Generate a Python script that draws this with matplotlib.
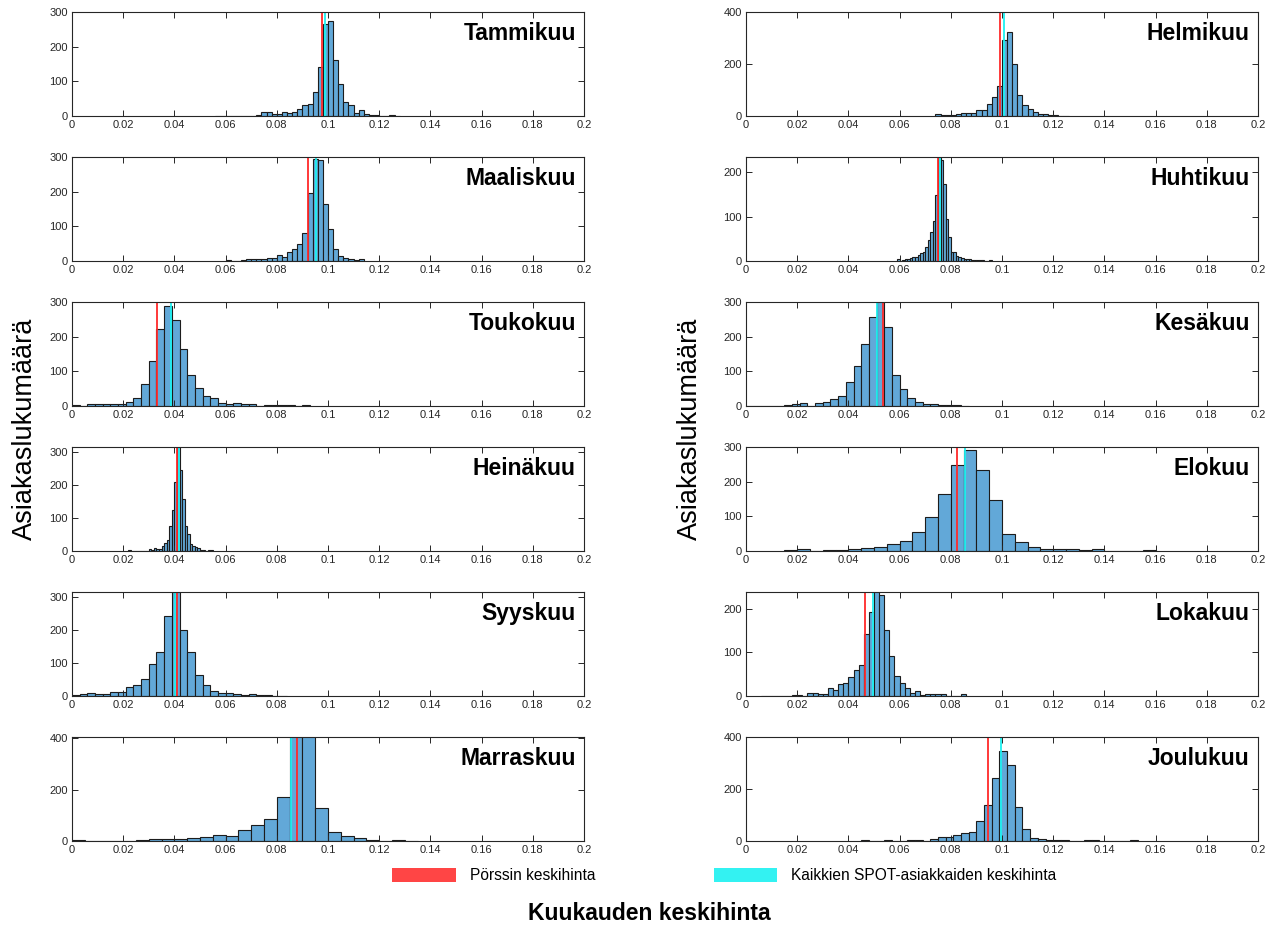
import matplotlib
matplotlib.use("Agg")
import matplotlib.pyplot as plt
import numpy as np
from matplotlib.patches import Patch

plt.rcParams['font.family'] = ['Liberation Sans', 'DejaVu Sans']

# counts per bin for every month (first edge and bin width below)
tammikuu = [1, 1, 1, 0, 0, 0, 0, 1, 3, 12, 12, 5, 7, 12, 10, 12, 19, 33, 35, 68, 140,
            264, 274, 162, 91, 39, 32, 8, 16, 6, 4, 3, 1, 0, 2, 1]
helmikuu = [8, 3, 4, 4, 8, 13, 13, 10, 22, 22, 45, 73, 115, 292, 322, 199, 81, 42, 27, 17,
            8, 8, 3, 2, 1, 1]
maaliskuu = [2, 0, 0, 3, 6, 6, 6, 7, 8, 9, 17, 12, 27, 36, 48, 80, 197, 293, 291, 163,
             91, 34, 15, 8, 5, 3, 6]
huhtikuu = [4, 0, 2, 5, 4, 7, 8, 10, 13, 17, 20, 32, 47, 66, 91, 149, 250, 227, 173, 94,
            53, 21, 20, 11, 8, 6, 5, 4, 4, 2, 2, 2, 2, 2, 1, 0, 3]
toukokuu = [2, 0, 6, 6, 7, 7, 6, 11, 24, 63, 129, 221, 289, 248, 163, 88, 51, 29, 22, 8,
            5, 8, 5, 5, 0, 2, 3, 2, 2, 0, 2]
kesakuu = [1, 0, 1, 1, 0, 2, 6, 8, 0, 8, 11, 19, 29, 68, 116, 180, 256, 310, 229, 88,
           48, 22, 12, 6, 5, 3, 2, 2, 1]
heinakuu = [2, 0, 1, 0, 0, 0, 0, 0, 6, 3, 8, 6, 6, 15, 24, 33, 76, 124, 210, 330, 245, 157,
            77, 51, 21, 15, 11, 8, 3, 3, 0, 2, 2]
elokuu = [2, 6, 0, 2, 3, 5, 9, 12, 19, 29, 54, 97, 164, 249, 290, 235, 147, 48, 25, 12,
          7, 6, 6, 3, 6, 0, 0, 0, 3]
syyskuu = [2, 5, 8, 6, 6, 11, 11, 26, 33, 50, 97, 133, 241, 330, 199, 132, 64, 34, 14, 9,
           8, 6, 3, 6, 3, 2, 1, 1]
lokakuu = [1, 0, 1, 0, 0, 0, 2, 2, 1, 7, 7, 4, 5, 19, 13, 27, 30, 43, 60, 72, 141, 192,
           250, 232, 150, 91, 46, 30, 18, 7, 11, 2, 4, 4, 4, 4, 0, 1, 0, 5]
marraskuu = [2, 0, 0, 0, 1, 2, 8, 8, 8, 13, 16, 23, 18, 44, 61, 87, 171, 420, 420, 127,
             34, 19, 10, 3, 0, 2, 1]
joulukuu = [3, 0, 0, 3, 0, 0, 3, 2, 0, 6, 14, 14, 22, 29, 36, 76, 137, 244, 347, 294,
            129, 47, 10, 8, 3, 3, 2, 1, 0, 3, 3, 0, 0, 0, 0, 2]

months = ['Tammikuu', 'Helmikuu', 'Maaliskuu', 'Huhtikuu', 'Toukokuu', 'Kesäkuu',
          'Heinäkuu', 'Elokuu', 'Syyskuu', 'Lokakuu', 'Marraskuu', 'Joulukuu']
all_counts = [tammikuu, helmikuu, maaliskuu, huhtikuu, toukokuu, kesakuu,
              heinakuu, elokuu, syyskuu, lokakuu, marraskuu, joulukuu]
bin_start = [0.056, 0.074, 0.060, 0.059, 0.0, 0.0, 0.022, 0.015, 0.0, 0.006, 0.0, 0.045]
bin_width = [0.002, 0.002, 0.002, 0.001, 0.003, 0.003, 0.001, 0.005, 0.003, 0.002, 0.005, 0.003]
porssi_mean = [0.0977, 0.0993, 0.0921, 0.0749, 0.0332, 0.0536,
               0.0411, 0.0823, 0.0411, 0.0466, 0.0880, 0.0945]
spot_mean = [0.0990, 0.1009, 0.0953, 0.0758, 0.0388, 0.0513,
             0.0418, 0.0855, 0.0402, 0.0497, 0.0857, 0.0997]
y_max = [300, 400, 300, 234, 300, 300, 315, 300, 315, 238, 405, 400]

xticks = np.arange(0, 0.2001, 0.02)
xticklabels = ['0', '0.02', '0.04', '0.06', '0.08', '0.1', '0.12', '0.14', '0.16', '0.18', '0.2']

bar_color = '#62a8d8'
red = '#ff2a2a'
cyan = '#1ef0f0'
dark = '#262626'

fig = plt.figure(figsize=(12.73, 9.26), dpi=100)
W, H = 1273, 926
col_left = [72, 746]
row_top = [12, 157, 302, 447, 592, 737]
aw, ah = 512, 104

for i, name in enumerate(months):
    col = i % 2
    row = i // 2
    ax = fig.add_axes([col_left[col] / W, 1 - (row_top[row] + ah) / H, aw / W, ah / H])
    counts = np.array(all_counts[i])
    edges = bin_start[i] + bin_width[i] * np.arange(len(counts))
    ax.bar(edges, counts, width=bin_width[i], align='edge', color=bar_color,
           edgecolor='#1c1c1c', linewidth=0.8)
    ax.axvline(porssi_mean[i], color=red, lw=1.3)
    ax.axvline(spot_mean[i], color=cyan, lw=1.3)
    ax.set_xlim(0, 0.2)
    ax.set_ylim(0, y_max[i])
    step = 200 if y_max[i] >= 400 else 100
    ax.set_yticks(np.arange(0, y_max[i] + 1, step))
    ax.set_xticks(xticks)
    ax.set_xticklabels(xticklabels)
    ax.tick_params(direction='in', top=True, right=True, labelsize=8, length=4,
                   width=0.7, colors=dark, labelcolor=dark, pad=3)
    for s in ax.spines.values():
        s.set_color(dark)
        s.set_linewidth(0.8)
    ax.text(0.984, 0.795, name, transform=ax.transAxes, ha='right', va='center',
            fontsize=16.5, fontweight='bold', color='black')

fig.text(25 / W, 1 - 429 / H, 'Asiakaslukumäärä', rotation=90, ha='center', va='center',
         fontsize=19.5, color='black')
fig.text(690 / W, 1 - 429 / H, 'Asiakaslukumäärä', rotation=90, ha='center', va='center',
         fontsize=19.5, color='black')
fig.text(649 / W, 1 - 914 / H, 'Kuukauden keskihinta', ha='center', va='center',
         fontsize=16.5, fontweight='bold', color='black')

handles = [Patch(facecolor='#ff4545', edgecolor='none'),
           Patch(facecolor='#33f2f2', edgecolor='none')]
labels = ['Pörssin keskihinta', 'Kaikkien SPOT-asiakkaiden keskihinta']
fig.legend(handles, labels, loc='upper left', bbox_to_anchor=(392 / W, 1 - 868 / H),
           ncol=2, frameon=False, fontsize=11.2, handlelength=4.1, handleheight=1.0,
           handletextpad=0.9, columnspacing=7.6, borderpad=0, borderaxespad=0)

fig.savefig('out.png', dpi=100)
